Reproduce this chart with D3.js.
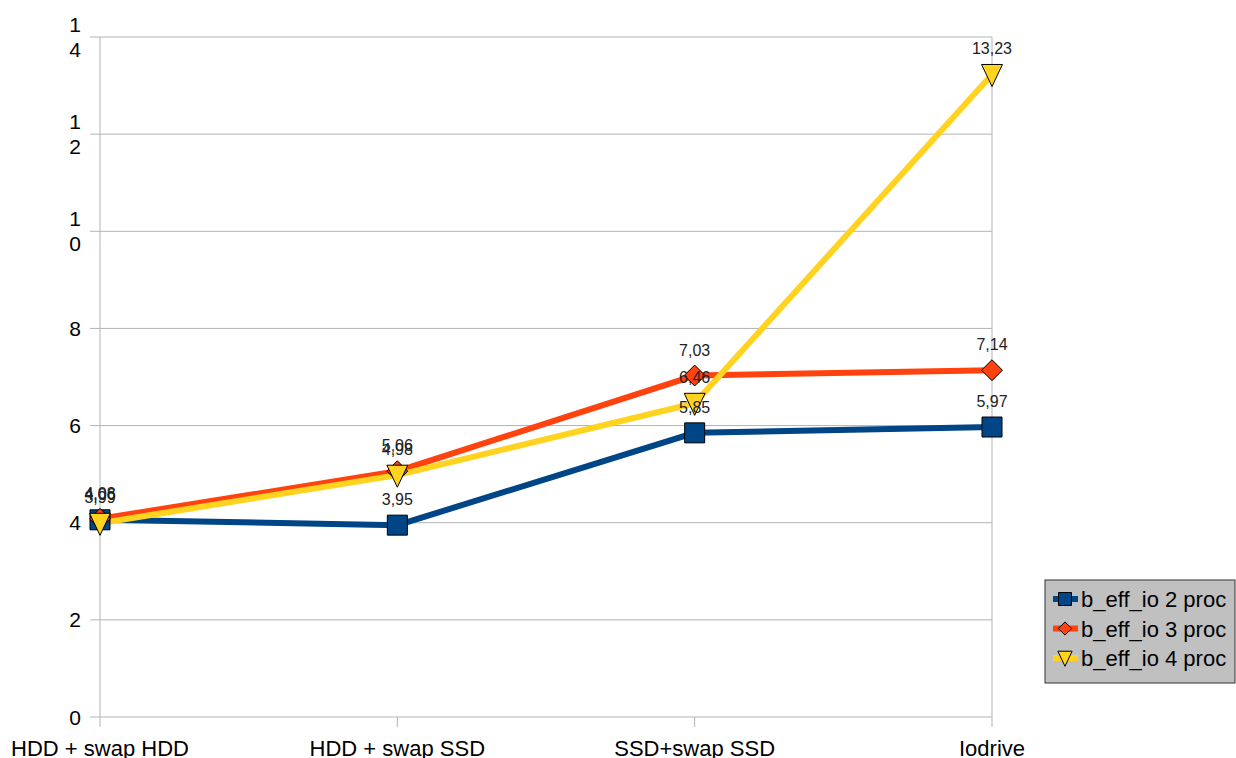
<!DOCTYPE html>
<html>
<head>
<meta charset="utf-8">
<script src="https://cdn.jsdelivr.net/npm/d3@7"></script>
<style>
  body { margin: 0; background: #fff; }
  text { font-family: "Liberation Sans", Arial, sans-serif; }
</style>
</head>
<body>
<div id="chart"></div>
<script>
// categories and series
var categories = ["HDD + swap HDD", "HDD + swap SSD", "SSD+swap SSD", "Iodrive"];
var seriesNames = ["b_eff_io 2 proc", "b_eff_io 3 proc", "b_eff_io 4 proc"];
var proc2 = [4.06, 3.95, 5.85, 5.97];
var proc3 = [4.08, 5.06, 7.03, 7.14];
var proc4 = [3.99, 4.98, 6.46, 13.23];
var yTicks = [0, 2, 4, 6, 8, 10, 12, 14];

var colors = ["#004586", "#ff420e", "#ffd320"];
var symbols = [d3.symbolSquare, d3.symbolDiamond, "triDown"];

var width = 1236, height = 758;
var margin = {top: 37, right: 244, bottom: 41, left: 100};

var svg = d3.select("#chart")
  .append("svg")
    .attr("width", width)
    .attr("height", height);

var x = d3.scalePoint()
  .domain(categories)
  .range([margin.left, width - margin.right]);

var y = d3.scaleLinear()
  .domain([0, 14])
  .range([height - margin.bottom, margin.top]);

// gridlines
svg.append("g")
  .selectAll("line")
  .data(yTicks)
  .enter()
  .append("line")
    .attr("x1", margin.left - 10)
    .attr("x2", width - margin.right)
    .attr("y1", function(d) { return y(d); })
    .attr("y2", function(d) { return y(d); })
    .attr("stroke", "#b3b3b3")
    .attr("stroke-width", 1);

// vertical lines at categories
svg.append("g")
  .selectAll("line")
  .data(categories)
  .enter()
  .append("line")
    .attr("x1", function(d) { return x(d); })
    .attr("x2", function(d) { return x(d); })
    .attr("y1", function(d, i) { return (i == 0 || i == 3) ? y(14) : y(0); })
    .attr("y2", y(0) + 10)
    .attr("stroke", "#b3b3b3")
    .attr("stroke-width", 1);

// y tick labels ("10", "12", "14" wrap onto two lines)
var yLab = svg.append("g")
  .selectAll("text")
  .data(yTicks)
  .enter()
  .append("text")
    .attr("text-anchor", "end")
    .style("font-size", "21px")
    .style("fill", "#000");
yLab.each(function(d) {
  var t = d3.select(this);
  var s = String(d);
  if (s.length == 1) {
    t.append("tspan").attr("x", 81).attr("y", y(d) + 7.5).text(s);
  } else {
    t.append("tspan").attr("x", 81).attr("y", y(d) - 5).text(s[0]);
    t.append("tspan").attr("x", 81).attr("y", y(d) + 20).text(s[1]);
  }
});

// x labels
svg.append("g")
  .selectAll("text")
  .data(categories)
  .enter()
  .append("text")
    .attr("x", function(d) { return x(d); })
    .attr("y", 756)
    .attr("text-anchor", "middle")
    .style("font-size", "22px")
    .style("fill", "#000")
    .text(function(d) { return d; });

var data = [proc2, proc3, proc4].map(function(vals, i) {
  return {name: seriesNames[i], color: colors[i], sym: symbols[i],
          values: vals.map(function(v, j) { return {cat: categories[j], value: v}; })};
});

function markerPath(sym, size) {
  if (sym == "triDown") {
    var w = size * 0.55, h = size * 0.58;
    return "M" + (-w) + "," + (-h * 0.9) + "L" + w + "," + (-h * 0.9) + "L0," + (h * 1.1) + "Z";
  }
  if (sym == d3.symbolSquare) {
    var s = size / 2;
    return "M" + (-s) + "," + (-s) + "H" + s + "V" + s + "H" + (-s) + "Z";
  }
  var dd = size * 0.55;
  return "M0," + (-dd) + "L" + dd + ",0L0," + dd + "L" + (-dd) + ",0Z";
}
var markerSize = [20, 19, 19];

var line = d3.line()
  .x(function(d) { return x(d.cat); })
  .y(function(d) { return y(d.value); });

svg.selectAll("seriesLines")
  .data(data)
  .enter()
  .append("path")
    .attr("d", function(d) { return line(d.values); })
    .attr("stroke", function(d) { return d.color; })
    .attr("stroke-width", 6)
    .attr("fill", "none");

// markers
svg.selectAll("seriesDots")
  .data(data)
  .enter()
  .append("g")
  .each(function(s, i) {
    d3.select(this).selectAll("path")
      .data(s.values)
      .enter()
      .append("path")
        .attr("transform", function(d) { return "translate(" + x(d.cat) + "," + y(d.value) + ")"; })
        .attr("d", markerPath(s.sym, markerSize[i]))
        .attr("fill", s.color)
        .attr("stroke", "#000")
        .attr("stroke-width", 1);
  });

// data labels
svg.selectAll("seriesLabels")
  .data(data)
  .enter()
  .append("g")
  .each(function(s) {
    d3.select(this).selectAll("text")
      .data(s.values)
      .enter()
      .append("text")
        .attr("x", function(d) { return x(d.cat); })
        .attr("y", function(d) { return y(d.value) - 20; })
        .attr("text-anchor", "middle")
        .style("font-size", "16px")
        .style("fill", "#222")
        .text(function(d) { return d.value.toFixed(2).replace(".", ","); });
  });

// legend
var lg = svg.append("g").attr("transform", "translate(1045,580)");
lg.append("rect")
  .attr("width", 190)
  .attr("height", 103)
  .attr("fill", "#c0c0c0")
  .attr("stroke", "#333")
  .attr("stroke-width", 1);
var rows = lg.selectAll("g.row")
  .data(data)
  .enter()
  .append("g")
    .attr("class", "row")
    .attr("transform", function(d, i) { return "translate(0," + (19 + i * 29.5) + ")"; });
rows.append("line")
  .attr("x1", 8).attr("x2", 33)
  .attr("stroke", function(d) { return d.color; })
  .attr("stroke-width", 6);
rows.append("path")
  .attr("transform", "translate(20,0)")
  .attr("d", function(d, i) { return markerPath(d.sym, [13, 12, 13][i]); })
  .attr("fill", function(d) { return d.color; })
  .attr("stroke", "#000")
  .attr("stroke-width", 1);
rows.append("text")
  .attr("x", 36)
  .attr("y", 8)
  .style("font-size", "22px")
  .style("fill", "#000")
  .text(function(d) { return d.name; });
</script>
</body>
</html>
